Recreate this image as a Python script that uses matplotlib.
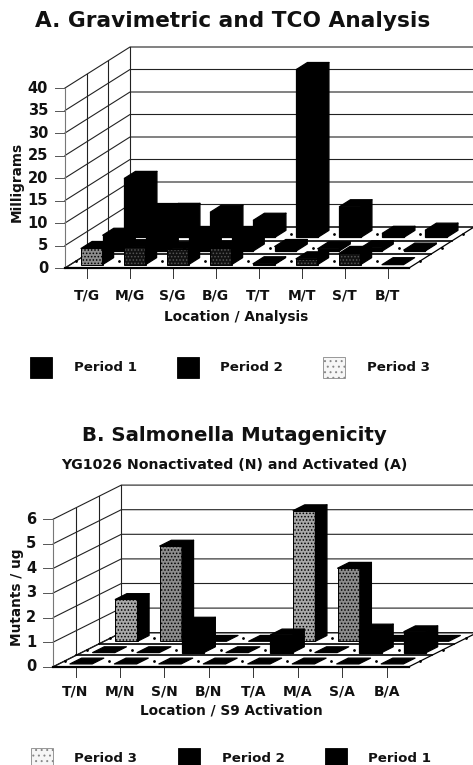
import numpy as np
import matplotlib
matplotlib.use("Agg")
import matplotlib.pyplot as plt

plt.rcParams["font.family"] = ["DejaVu Sans"]
plt.rcParams["font.weight"] = "bold"
plt.rcParams["hatch.linewidth"] = 0.7

# ----- chart A, rows listed front to back
cats_a = ["T/G", "M/G", "S/G", "B/G", "T/T", "M/T", "S/T", "B/T"]
period3_a = [3.6, 4.0, 3.5, 3.7, 0.2, 1.3, 2.5, 0.0]
period2_a = [3.5, 9.0, 3.9, 3.9, 1.0, 0.5, 0.7, 0.2]
period1_a = [13.1, 6.0, 5.6, 3.8, 37.3, 6.8, 0.9, 1.6]
ticks_a = [0, 5, 10, 15, 20, 25, 30, 35, 40]
shade3_a = ["#8c8c8c", "#111111", "#111111", "#111111", "#111111", "#111111", "#111111", "#111111"]

# ----- chart B, rows listed front to back
cats_b = ["T/N", "M/N", "S/N", "B/N", "T/A", "M/A", "S/A", "B/A"]
period1_b = [0, 0, 0, 0, 0, 0, 0, 0]
period2_b = [0, 0, 1.2, 0, 0.72, 0, 0.92, 0.85]
period3_b = [1.7, 3.87, 0, 0, 5.31, 2.97, 0, 0]
ticks_b = [0, 1, 2, 3, 4, 5, 6]
shade3_b = ["#a8a8a8", "#8c8c8c", "#8c8c8c", "#8c8c8c", "#a8a8a8", "#8c8c8c", "#8c8c8c", "#8c8c8c"]

W, H = 473, 765
fig = plt.figure(figsize=(W / 100, H / 100), dpi=100)
ax = fig.add_axes([0, 0, 1, 1])
ax.set_xlim(0, W)
ax.set_ylim(H, 0)
ax.axis("off")


def draw_chart(cats, rows, ticks, x0, y0, wide, ppu, ddx, ddy, shades, label_dy):
    # oblique projection: category, depth (0-1), value -> pixels
    step = wide / len(cats)

    def pt(c, d, v):
        return (x0 + c * step + d * ddx, y0 - d * ddy - v * ppu)

    top = ticks[-1]
    n = len(cats)

    # floor
    fx, fy = zip(pt(0, 0, 0), pt(n, 0, 0), pt(n, 1, 0), pt(0, 1, 0))
    ax.fill(fx, fy, fc="white", ec="black", lw=0.9, zorder=1)
    xs, ys = zip(pt(0, 0, 0), pt(n, 0, 0))
    ax.plot(xs, ys, color="black", lw=1.6, zorder=1.5)
    for d in [1 / 3, 2 / 3]:
        xs, ys = zip(pt(0, d, 0), pt(n, d, 0))
        ax.plot(xs, ys, color="black", lw=1.2, zorder=1.5)

    # walls
    for v in ticks:
        xs, ys = zip(pt(0, 0, v), pt(0, 1, v), pt(n, 1, v))
        ax.plot(xs, ys, color="#222222", lw=0.8, zorder=1)
        tx, ty = pt(0, 0, v)
        ax.plot([tx - 10, tx], [ty, ty], color="#555555", lw=0.7, zorder=1)
        ax.text(tx - 17, ty, str(v), ha="right", va="center", fontsize=10.5, color="#111111")
    for d in [0, 1 / 3, 2 / 3, 1]:
        xs, ys = zip(pt(0, d, 0), pt(0, d, top))
        ax.plot(xs, ys, color="#777777" if d == 0 else "#222222", lw=0.8, zorder=1)

    # x ticks and labels
    for c, name in enumerate(cats):
        tx, ty = pt(c + 0.5, 0, 0)
        ax.plot([tx, tx], [ty, ty + 10], color="#333333", lw=0.7, zorder=1)
        ax.text(tx, ty + label_dy, name, ha="center", va="center", fontsize=10, color="#111111")

    # speckles between the floor cells
    for c in range(n + 1):
        for d in [1 / 6, 1 / 2, 5 / 6]:
            px, py = pt(c, d, 0)
            ax.plot(px, py, ".", color="black", ms=2, zorder=1.5)

    # bars, back row first so that nearer ones overlap
    bw = 0.5
    bd = 0.17
    for r in range(len(rows) - 1, -1, -1):
        dmid = (r + 0.5) / len(rows)
        d0, d1 = dmid - bd / 2, dmid + bd / 2
        for c, v in enumerate(rows[r]):
            c0, c1 = c + 0.5 - bw / 2, c + 0.5 + bw / 2
            z = 3 + (len(rows) - r) + c * 0.01
            if v > 0:
                xs, ys = zip(pt(c0, d0, 0), pt(c1, d0, 0), pt(c1, d0, v), pt(c0, d0, v))
                if shades[r]:
                    shade = shades[r][c]
                    dot = "#555555" if shade == "#111111" else "black"
                    ax.fill(xs, ys, fc=shade, ec=dot, hatch=".....", lw=0, zorder=z)
                    ax.fill(xs, ys, fc="none", ec="black", lw=0.7, zorder=z)
                else:
                    ax.fill(xs, ys, fc="black", ec="black", lw=0.9, zorder=z)
                xs, ys = zip(pt(c1, d0, 0), pt(c1, d1, 0), pt(c1, d1, v), pt(c1, d0, v))
                ax.fill(xs, ys, fc="black", ec="black", lw=0.9, joinstyle="round", zorder=z)
            xs, ys = zip(pt(c0, d0, v), pt(c1, d0, v), pt(c1, d1, v), pt(c0, d1, v))
            ax.fill(xs, ys, fc="black", ec="black", lw=0.9, joinstyle="round", zorder=z)


def legend(y, items):
    for x, tx, name, fc in items:
        xs = [x, x + 22, x + 22, x]
        ys = [y - 10.5, y - 10.5, y + 10.5, y + 10.5]
        if fc == "white":
            ax.fill(xs, ys, fc="#f6f6f6", ec="#888888", lw=0.6, hatch="...", zorder=2)
        else:
            ax.fill(xs, ys, fc=fc, ec=fc, lw=0.6, zorder=2)
        ax.text(tx, y, name, ha="left", va="center", fontsize=9.6, color="#111111")


# Chart A
ax.text(232.5, 21, "A. Gravimetric and TCO Analysis", ha="center", va="center",
        fontsize=15.6, color="#111111")
draw_chart(cats_a, [period3_a, period2_a, period1_a], ticks_a,
           65, 268, 344, 4.5, 65, 41, [shade3_a, None, None], 27.5)
ax.text(17, 182, "Milligrams", rotation=90, ha="center", va="center", fontsize=9.8, color="#111111")
ax.text(236, 316.5, "Location / Analysis", ha="center", va="center", fontsize=9.8, color="#111111")
legend(367, [(30, 74, "Period 1", "black"), (177, 220, "Period 2", "black"),
             (323, 367, "Period 3", "white")])

# Chart B
ax.text(234, 435.5, "B. Salmonella Mutagenicity", ha="center", va="center",
        fontsize=14.2, color="#111111")
ax.text(234, 465, "YG1026 Nonactivated (N) and Activated (A)", ha="center", va="center",
        fontsize=10.2, color="#111111")
draw_chart(cats_b, [period1_b, period2_b, period3_b], ticks_b,
           53.3, 666.7, 355.7, 24.6, 68, 34, [None, None, shade3_b], 25)
ax.text(17, 597, "Mutants / ug", rotation=90, ha="center", va="center", fontsize=9.8, color="#111111")
ax.text(231, 711, "Location / S9 Activation", ha="center", va="center", fontsize=9.8, color="#111111")
legend(758, [(31, 74, "Period 3", "white"), (178, 222, "Period 2", "black"),
             (325, 368, "Period 1", "black")])

fig.savefig("out.png", dpi=100)
